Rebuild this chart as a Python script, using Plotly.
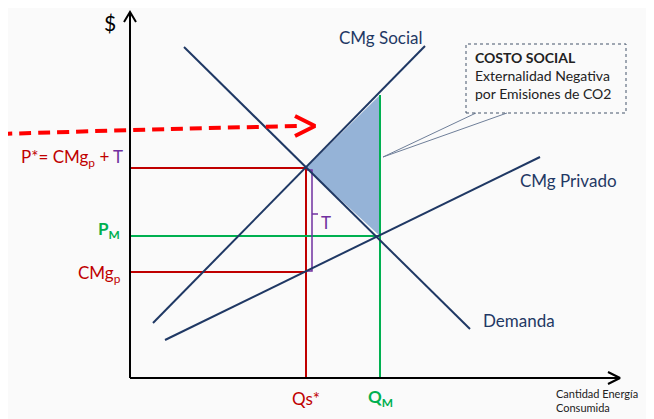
import plotly.graph_objects as go

# curve endpoints (cantidad, precio) measured from the origin of the axes
social_q = [23, 295]
social_p = [55, 332]
demanda_q = [54, 340]
demanda_p = [331, 49]
privado_q = [35, 410]
privado_p = [38, 221]

# equilibrium values
qs, p_star, cmg_p = 176, 210, 106
qm, pm = 250, 142
social_at_qm = 283

# red dashed arrow path (enters from the left)
arrow_q = [-130, 40, 172]
arrow_p = [244, 249, 252]

NAVY = "#1F3864"
RED = "#C00000"
GREEN = "#00B050"
PURPLE = "#7030A0"
FONT = "Lato, Carlito, Calibri, sans-serif"

fig = go.Figure()


def line(x, y, color, width=2, dash=None, shape="linear"):
    fig.add_trace(go.Scatter(x=x, y=y, mode="lines", hoverinfo="skip",
                             line=dict(color=color, width=width, dash=dash, shape=shape)))


# social cost triangle
fig.add_trace(go.Scatter(x=[qs, qm, qm, qs], y=[p_star, social_at_qm, pm, p_star],
                         fill="toself", fillcolor="#95B3D7", mode="lines",
                         line=dict(color="#95B3D7", width=0), hoverinfo="skip"))

# reference lines
line([0, qs, qs], [p_star, p_star, 0], RED)
line([0, qs], [cmg_p, cmg_p], RED)
line([0, qm], [pm, pm], GREEN)
line([qm, qm], [0, social_at_qm], GREEN)

# T bracket
bx = qs + 6
line([qs + 1, bx, bx, qs + 1], [p_star - 2, p_star - 2, cmg_p + 1, cmg_p + 1], PURPLE, 1.5)
line([bx, bx + 6], [(p_star + cmg_p) / 2 + 6, (p_star + cmg_p) / 2 + 6], PURPLE, 1.5)

# curves
line(social_q, social_p, NAVY)
line(demanda_q, demanda_p, NAVY)
line(privado_q, privado_p, NAVY)

# axes with open arrowheads
ymax, xmax = 366, 490
line([0, 0], [0, ymax], "black", 2)
line([-6, 0, 6], [ymax - 10, ymax, ymax - 10], "black", 2)
line([0, xmax], [0, 0], "black", 2)
line([xmax - 12, xmax, xmax - 12], [6, 0, -6], "black", 2)

# red dashed arrow
line(arrow_q, arrow_p, "#FF0000", 4, "12px,7px", "spline")
tip_q, tip_p = arrow_q[-1] + 13, arrow_p[-1]
line([tip_q - 20, tip_q, tip_q - 20], [tip_p + 10, tip_p, tip_p - 10], "#FF0000", 4)

# callout box and tail
box = dict(x0=336, x1=496, y0=265, y1=334)
fig.add_shape(type="rect", xref="x", yref="y", **box,
              line=dict(color="#44546A", width=1, dash="dot"), fillcolor="rgba(0,0,0,0)")
line([box["x0"] + 10, 253, box["x0"] + 41], [box["y0"], 221, box["y0"]], "#6F7F99", 1)

ann = []


def text(x, y, s, color, size=17, xanchor="center", yanchor="middle", align="center"):
    ann.append(dict(x=x, y=y, text=s, xref="x", yref="y", showarrow=False,
                    xanchor=xanchor, yanchor=yanchor, align=align,
                    font=dict(family=FONT, size=size, color=color)))


text(-20, 356, "$", "black", 21)
text(251, 341, "CMg Social", NAVY)
text(438, 198, "CMg Privado", NAVY)
text(389, 58, "Demanda", NAVY)
text(-5, 220, "P*= CMg<sub>p</sub> + <span style='color:%s'>T</span>" % PURPLE, RED,
     xanchor="right")
text(-8, 148, "<b>P<sub>M</sub></b>", GREEN, xanchor="right")
text(-7, 104, "CMg<sub>p</sub>", RED, xanchor="right")
text(196, 156, "T", PURPLE)
text(qs, -20, "Qs*", RED)
text(qm, -20, "<b>Q<sub>M</sub></b>", GREEN)
text(424, -22, "Cantidad Energía<br>Consumida", "#222222", 11, xanchor="left", align="left")
text(343, 331, "<b>COSTO SOCIAL</b><br>Externalidad Negativa<br>por Emisiones de CO2",
     "#222222", 14, xanchor="left", yanchor="top", align="left")

# the page body adds an 8px offset, so the axis ranges are shifted to compensate
fig.update_layout(
    width=654, height=419,
    margin=dict(l=0, r=0, t=0, b=0),
    paper_bgcolor="#FAFAFA", plot_bgcolor="#FAFAFA",
    showlegend=False,
    xaxis=dict(range=[-122, 532], visible=False, fixedrange=True),
    yaxis=dict(range=[-49, 370], visible=False, fixedrange=True),
    annotations=ann,
)

fig.write_html("out.html", config={"displayModeBar": False})
